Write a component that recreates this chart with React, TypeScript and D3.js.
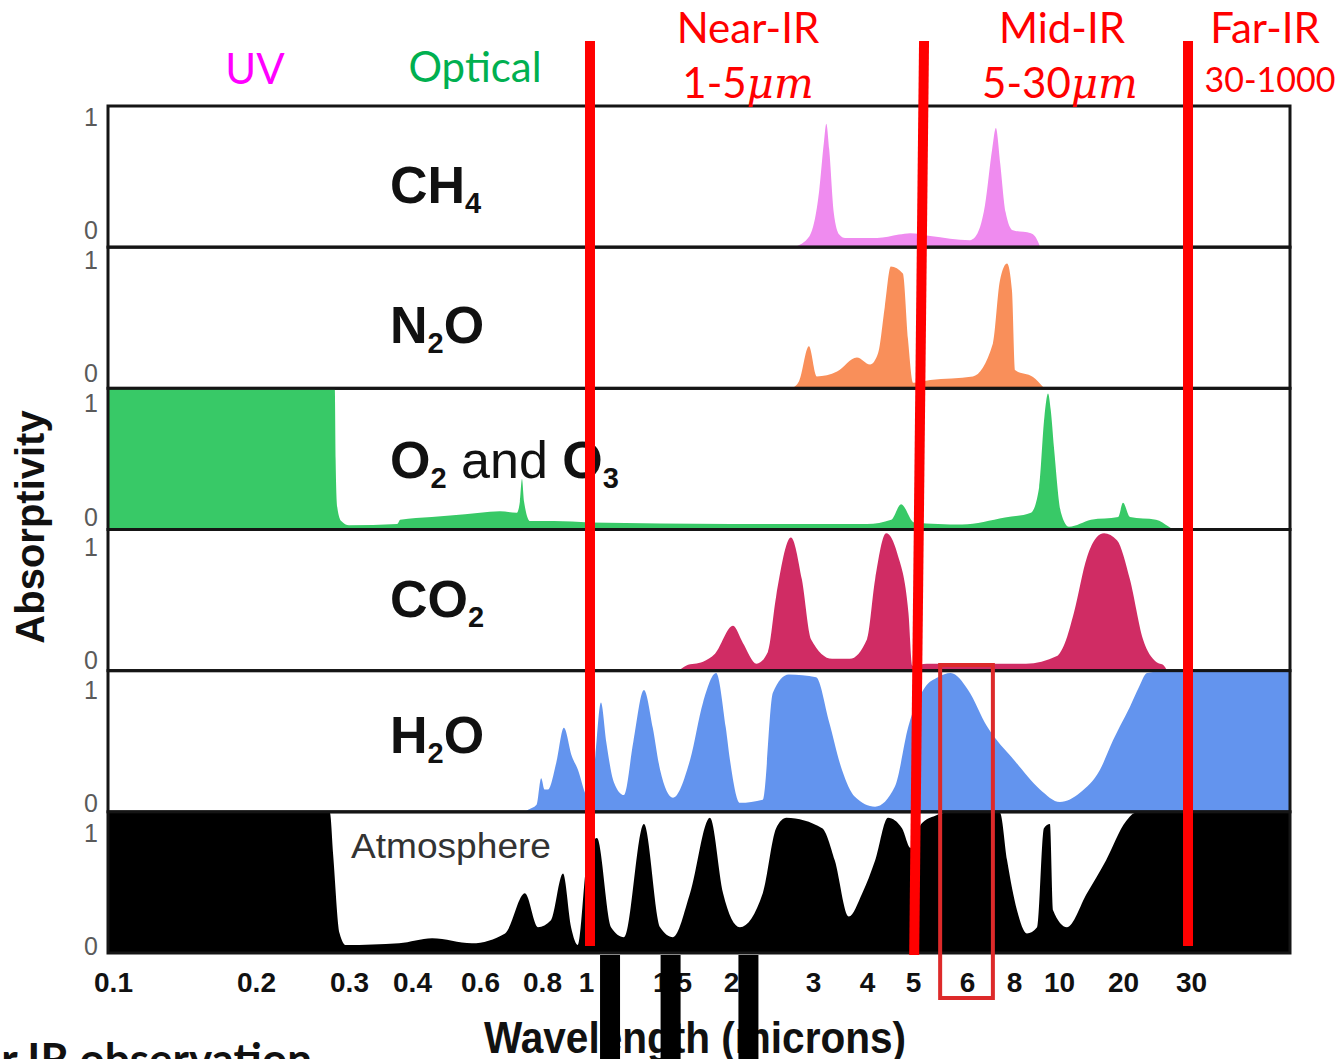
import React, { useRef, useEffect } from "react";
import * as d3 from "d3";

type Pt = [number, number]; // [wavelength in microns, absorptivity 0..1]

const W = 1336;
const H = 1059;

// printed axis labels (microns)
const tickValues = [0.1, 0.2, 0.3, 0.4, 0.6, 0.8, 1, 1.5, 2, 3, 4, 5, 6, 8, 10, 20, 30];
// the printed axis is not a clean log scale, so map through its own labels
const axisKnotsUm = [0.0976, ...tickValues, 55];
const axisKnotsPx = [108, 113, 256, 349, 412, 480, 542, 586, 672, 731, 813, 867, 913, 967, 1014, 1059, 1123, 1191, 1290];

const panelNames = ["CH4", "N2O", "O2O3", "CO2", "H2O", "Atmosphere"];
const panelColors = ["#ef8bef", "#f98f5a", "#38c967", "#d02c64", "#6394ee", "#000000"];

const ch4: Pt[] = [
  [2.73, 0], [2.95, 0.08], [3.1, 0.4], [3.18, 0.75], [3.22, 0.88], [3.27, 0.7], [3.35, 0.25],
  [3.45, 0.09], [3.56, 0.065], [4.2, 0.065], [4.67, 0.09], [4.93, 0.1], [5.3, 0.08], [6.11, 0.05],
  [6.3, 0.07], [6.7, 0.3], [7.0, 0.7], [7.16, 0.85], [7.35, 0.6], [7.6, 0.25], [7.95, 0.12],
  [8.7, 0.1], [9.06, 0.02], [9.1, 0],
];

const n2o: Pt[] = [
  [2.7, 0], [2.8, 0.05], [2.94, 0.3], [3.06, 0.085], [3.41, 0.12], [3.79, 0.22], [4.06, 0.17],
  [4.22, 0.25], [4.36, 0.58], [4.49, 0.87], [4.76, 0.82], [4.88, 0.35], [5.0, 0.04], [5.3, 0.06],
  [6.22, 0.085], [7.03, 0.32], [7.34, 0.77], [7.67, 0.89], [7.9, 0.7], [8.04, 0.13], [8.79, 0.08],
  [9.24, 0.01], [9.3, 0],
];

const o2o3: Pt[] = [
  [0.0976, 1], [0.282, 1], [0.283, 0.5], [0.285, 0.16], [0.29, 0.06], [0.3, 0.03], [0.374, 0.04],
  [0.379, 0.07], [0.45, 0.09], [0.502, 0.1], [0.6, 0.12], [0.658, 0.13], [0.712, 0.12], [0.722, 0.2],
  [0.729, 0.36], [0.736, 0.2], [0.757, 0.06], [0.85, 0.06], [1.019, 0.05], [2, 0.04], [4, 0.04],
  [4.5, 0.07], [4.72, 0.18], [5.02, 0.05], [5.9, 0.035], [7.57, 0.085], [8.7, 0.12], [9.06, 0.3],
  [9.3, 0.8], [9.47, 0.97], [9.6, 0.85], [9.75, 0.59], [10.22, 0.12], [11.14, 0.02], [14.14, 0.07],
  [19, 0.09], [20, 0.19], [20.85, 0.09], [24.35, 0.07], [26.3, 0.02], [27, 0],
];

const co2: Pt[] = [
  [1.55, 0], [1.606, 0.035], [1.745, 0.063], [1.85, 0.12], [2.02, 0.32], [2.12, 0.2], [2.27, 0.05],
  [2.4, 0.134], [2.5, 0.53], [2.69, 0.95], [2.84, 0.65], [2.97, 0.225], [3.32, 0.085], [3.65, 0.085],
  [4.0, 0.225], [4.16, 0.65], [4.39, 0.98], [4.63, 0.84], [4.89, 0.415], [4.98, 0.035], [5.24, 0.05],
  [8.49, 0.05], [9.9, 0.105], [10.67, 0.2], [11.76, 0.415], [13.54, 0.81], [15, 0.95], [16.29, 0.98],
  [18.74, 0.93], [20.85, 0.65], [22.53, 0.225], [24.35, 0.063], [25.54, 0.035], [26, 0],
];

const h2o: Pt[] = [
  [0.74, 0], [0.75, 0.014], [0.78, 0.05], [0.797, 0.24], [0.81, 0.16], [0.825, 0.16], [0.86, 0.35],
  [0.894, 0.6], [0.93, 0.4], [0.96, 0.3], [1.0, 0.12], [1.024, 0.086], [1.045, 0.4], [1.073, 0.78],
  [1.1, 0.5], [1.141, 0.21], [1.196, 0.12], [1.25, 0.5], [1.314, 0.87], [1.37, 0.6], [1.418, 0.3],
  [1.507, 0.1], [1.638, 0.37], [1.745, 0.78], [1.86, 0.99], [1.95, 0.6], [1.99, 0.37], [2.09, 0.064],
  [2.34, 0.086], [2.46, 0.85], [2.66, 0.98], [3.05, 0.96], [3.27, 0.64], [3.5, 0.3], [3.75, 0.107],
  [4.16, 0.036], [4.58, 0.18], [4.89, 0.61], [5.21, 0.89], [5.44, 0.96], [5.68, 0.99], [6.04, 0.87],
  [6.78, 0.61], [8.0, 0.37], [9.1, 0.16], [10.1, 0.07], [12.55, 0.136], [15.59, 0.3], [17.95, 0.51],
  [19.35, 0.61], [20.85, 0.75], [22.0, 0.89], [23.08, 0.99], [24.79, 1], [60, 1],
];

const atmosphere: Pt[] = [
  [0.0976, 1], [0.276, 1], [0.28, 0.7], [0.288, 0.14], [0.296, 0.057], [0.377, 0.07], [0.451, 0.106],
  [0.572, 0.07], [0.674, 0.14], [0.739, 0.426], [0.785, 0.184], [0.837, 0.234], [0.89, 0.567],
  [0.927, 0.184], [0.96, 0.057], [1.005, 0.66], [1.053, 0.82], [1.125, 0.184], [1.196, 0.113],
  [1.314, 0.92], [1.418, 0.184], [1.507, 0.113], [1.638, 0.426], [1.805, 0.965], [1.924, 0.426],
  [2.09, 0.184], [2.34, 0.426], [2.5, 0.89], [2.63, 0.965], [3.15, 0.89], [3.37, 0.66], [3.63, 0.26],
  [3.9, 0.426], [4.16, 0.66], [4.43, 0.965], [4.74, 0.89], [4.94, 0.75], [5.14, 0.92], [5.39, 0.98],
  [5.6, 1], [7.34, 1], [7.67, 0.66], [8.12, 0.305], [8.53, 0.14], [8.97, 0.184], [9.28, 0.89],
  [9.56, 0.92], [9.71, 0.305], [10.9, 0.184], [13.54, 0.426], [16.63, 0.66], [20.36, 0.94],
  [21.6, 1], [60, 1],
];

const panelSeries = [ch4, n2o, o2o3, co2, h2o, atmosphere];

// red band boundaries (microns): [top, bottom]
const bandEdges: [number, number][] = [[1.019, 1.019], [5.19, 5.02], [29.47, 29.47]];
// J, H, K filter marks (microns)
const filterBands = [1.12, 1.49, 2.18];
// highlighted range around 6 microns
const highlight = [5.48, 7.03];

const SANS = "'Liberation Sans', Arial, sans-serif";
const NARROW = "'Liberation Sans Narrow', 'Liberation Sans', Arial, sans-serif";
const LATO = "Lato, 'Open Sans', sans-serif";

const AtmosphereChart: React.FC = () => {
  const svgRef = useRef<SVGSVGElement>(null);

  useEffect(() => {
    if (!svgRef.current) return;
    const svg = d3.select(svgRef.current);
    svg.selectAll("*").remove();

    const plotLeft = 108;
    const plotRight = 1290;

    const x = d3.scaleLog().domain(axisKnotsUm).range(axisKnotsPx).clamp(true);
    const band = d3.scaleBand<string>().domain(panelNames).range([106, 953]).paddingInner(0);
    const bh = band.bandwidth();

    const defs = svg.append("defs");

    panelNames.forEach((name, i) => {
      const top = band(name)!;
      const bottom = top + bh;
      const y = d3.scaleLinear().domain([0, 1]).range([bottom, top + 1]);

      defs.append("clipPath").attr("id", `clip-${i}`)
        .append("rect").attr("x", plotLeft).attr("y", top).attr("width", plotRight - plotLeft).attr("height", bh);

      const area = d3.area<Pt>()
        .x(d => x(d[0]))
        .y0(bottom)
        .y1(d => y(d[1]))
        .curve(d3.curveMonotoneX);

      svg.append("path")
        .datum(panelSeries[i])
        .attr("clip-path", `url(#clip-${i})`)
        .attr("fill", panelColors[i])
        .attr("d", area);

      svg.append("rect")
        .attr("x", plotLeft).attr("y", top)
        .attr("width", plotRight - plotLeft).attr("height", bh)
        .attr("fill", "none").attr("stroke", "#151515").attr("stroke-width", 3);

      // y tick labels drift slightly in the original
      svg.append("text").attr("x", 98).attr("y", top + 20 + i * 2)
        .attr("text-anchor", "end").attr("font-family", SANS).attr("font-size", 25)
        .attr("fill", "#5a5a5a").text("1");
      svg.append("text").attr("x", 98).attr("y", bottom - 8 + i * 2)
        .attr("text-anchor", "end").attr("font-family", SANS).attr("font-size", 25)
        .attr("fill", "#5a5a5a").text("0");
    });

    // molecule labels
    const labelDrop = [97, 96, 90, 87, 82];
    const labelParts: [string, boolean, boolean][][] = [
      [["CH", false, true], ["4", true, true]],
      [["N", false, true], ["2", true, true], ["O", false, true]],
      [["O", false, true], ["2", true, true], [" and ", false, false], ["O", false, true], ["3", true, true]],
      [["CO", false, true], ["2", true, true]],
      [["H", false, true], ["2", true, true], ["O", false, true]],
    ];
    labelParts.forEach((parts, i) => {
      const t = svg.append("text")
        .attr("x", 390).attr("y", band(panelNames[i])! + labelDrop[i])
        .attr("font-family", SANS).attr("font-size", 52).attr("fill", "#111");
      let shifted = false;
      parts.forEach(([s, sub, bold]) => {
        const ts = t.append("tspan").text(s).attr("font-weight", bold ? "bold" : "normal");
        if (sub && !shifted) { ts.attr("dy", 10).attr("font-size", 29); shifted = true; }
        else if (!sub && shifted) { ts.attr("dy", -10); shifted = false; }
        else if (sub) ts.attr("font-size", 29);
      });
    });

    svg.append("text")
      .attr("x", 351).attr("y", band("Atmosphere")! + 46)
      .attr("font-family", SANS).attr("font-size", 35).attr("fill", "#333")
      .attr("textLength", 200).attr("lengthAdjust", "spacingAndGlyphs")
      .text("Atmosphere");

    // x axis
    const axisG = svg.append("g")
      .attr("transform", "translate(0,972)")
      .call(d3.axisBottom(x).tickValues(tickValues).tickFormat(d => String(d)).tickSize(0).tickPadding(0));
    axisG.select(".domain").remove();
    axisG.attr("font-family", NARROW).attr("font-size", 28).attr("font-weight", "bold");
    axisG.selectAll("text").attr("fill", "#111");

    svg.append("text")
      .attr("x", 695).attr("y", 1053)
      .attr("text-anchor", "middle").attr("font-family", NARROW)
      .attr("font-size", 44).attr("font-weight", "bold").attr("fill", "#111")
      .attr("textLength", 422).attr("lengthAdjust", "spacingAndGlyphs")
      .text("Wavelength (microns)");

    svg.append("text")
      .attr("transform", "translate(44,527) rotate(-90)")
      .attr("text-anchor", "middle").attr("font-family", SANS)
      .attr("font-size", 40).attr("font-weight", "bold").attr("fill", "#111")
      .text("Absorptivity");

    // region labels
    const heading = (cx: number, by: number, txt: string, color: string, size = 42) =>
      svg.append("text").attr("x", cx).attr("y", by).attr("text-anchor", "middle")
        .attr("font-family", LATO).attr("font-size", size).attr("fill", color).text(txt);

    heading(255, 84, "UV", "#ff00ff");
    heading(475, 82, "Optical", "#00b050");
    heading(748, 43, "Near-IR", "#ff0000");
    heading(1062, 43, "Mid-IR", "#ff0000");
    heading(1265, 43, "Far-IR", "#ff0000");
    heading(1270, 92, "30-1000", "#ff0000", 34);

    const rangeLabel = (cx: number, num: string) => {
      const t = svg.append("text").attr("x", cx).attr("y", 98).attr("text-anchor", "middle")
        .attr("fill", "#ff0000");
      t.append("tspan").attr("font-family", LATO).attr("font-size", 42).text(num);
      t.append("tspan").attr("font-family", "'DejaVu Serif', 'Liberation Serif', serif")
        .attr("font-style", "italic").attr("font-size", 42).text("\u03bcm");
    };
    rangeLabel(748, "1-5");
    rangeLabel(1060, "5-30");

    // red band boundaries
    bandEdges.forEach(([wTop, wBot]) => {
      svg.append("line")
        .attr("x1", x(wTop)).attr("y1", 41)
        .attr("x2", x(wBot)).attr("y2", wTop === wBot ? 946 : 955)
        .attr("stroke", "#ff0000").attr("stroke-width", 10);
    });

    // highlight box around 6 microns
    svg.append("rect")
      .attr("x", x(highlight[0])).attr("y", 665)
      .attr("width", x(highlight[1]) - x(highlight[0])).attr("height", 333)
      .attr("fill", "none").attr("stroke", "#dd2a2a").attr("stroke-width", 4);

    // J/H/K filter marks
    filterBands.forEach(w => {
      svg.append("rect")
        .attr("x", x(w) - 10).attr("y", 955)
        .attr("width", 20).attr("height", H - 955)
        .attr("fill", "#000");
    });

    svg.append("text")
      .attr("x", 312).attr("y", 1075)
      .attr("text-anchor", "end").attr("font-family", LATO)
      .attr("font-size", 44).attr("font-weight", "bold").attr("fill", "#111")
      .text("Near IR observation");
  }, []);

  return (
    <svg
      ref={svgRef}
      width={W}
      height={H}
      style={{ position: "absolute", left: 0, top: 0, background: "#fff", display: "block" }}
    />
  );
};

export default function App() {
  return <AtmosphereChart />;
}
